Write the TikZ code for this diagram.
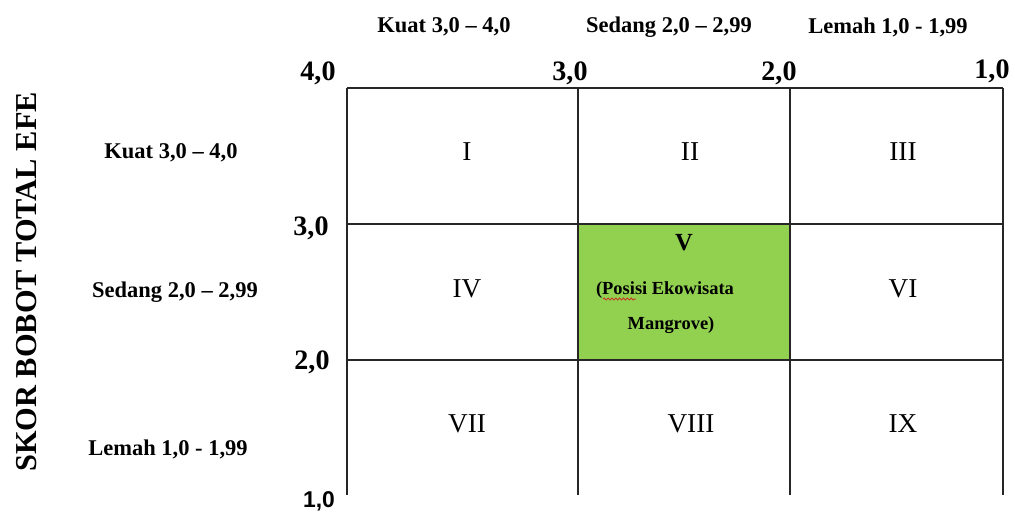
\documentclass[tikz,border=0pt]{standalone}
\usepackage{fontspec}
\setmainfont{Liberation Serif}
\newfontfamily\arialfont{Liberation Sans}
\usepackage{tikz}
\usetikzlibrary{decorations.pathmorphing}
\definecolor{posgreen}{HTML}{92D050}
\definecolor{squig}{HTML}{D02020}
\tikzset{
  cellline/.style={line width=0.75pt,draw=black!85},
  hdr/.style={font=\fontsize{12.8}{14}\selectfont\bfseries,inner sep=1pt},
  num/.style={font=\fontsize{16}{18}\selectfont\bfseries,inner sep=1pt},
  cell/.style={font=\fontsize{15.5}{17}\selectfont,inner sep=1pt},
  postext/.style={font=\fontsize{10.5}{12}\selectfont\bfseries,inner sep=1pt},
}

\begin{document}
\begin{tikzpicture}[x=0.02cm,y=-0.02cm]
\useasboundingbox (0,0) rectangle (1015,514);

% matrix cells
\fill[posgreen] (578,224) rectangle (790,360);
\draw[cellline] (347,88) -- (1003,88);
\draw[cellline] (347,224) -- (1003,224);
\draw[cellline] (347,360) -- (1003,360);
\foreach \x in {347,578,790,1003}
  \draw[cellline] (\x,88) -- (\x,495);

% column headers
\node[hdr] (kt) at (444,27) {Kuat 3,0 -- 4,0};
\node[hdr] (sd) at (669,27) {Sedang 2,0 -- 2,99};
\node[hdr] (lm) at (888,27) {Lemah 1,0 - 1,99};

% axis numbers
\node[num] (n4) at (318,73) {4,0};
\node[num] (n3) at (570,73) {3,0};
\node[num] (n2) at (779,73) {2,0};
\node[num] (n1) at (992,71) {1,0};
\node[num] (m3) at (311,228) {3,0};
\node[num] (m2) at (312,362) {2,0};
\node[num,font=\fontsize{13}{15}\selectfont\arialfont\bfseries] (m1) at (319,501) {1,0};

% row labels
\node[hdr] (rk) at (171,153) {Kuat 3,0 -- 4,0};
\node[hdr] (rs) at (175,292) {Sedang 2,0 -- 2,99};
\node[hdr] (rl) at (168,449) {Lemah 1,0 - 1,99};
\node[font=\fontsize{17.3}{19}\selectfont\bfseries,rotate=90] (efe) at (27,282) {SKOR BOBOT TOTAL EFE};

% cell numbers
\node[cell] (c1) at (467,152) {I};
\node[cell] (c2) at (690,152) {II};
\node[cell] (c3) at (903,152) {III};
\node[cell] (c4) at (467,289) {IV};
\node[cell] (c6) at (903,289) {VI};
\node[cell] (c7) at (467,424) {VII};
\node[cell] (c8) at (691,424) {VIII};
\node[cell] (c9) at (903,424) {IX};

% position of the object
\node[font=\fontsize{14}{16}\selectfont\bfseries] (c5) at (684,243) {V};
\node[postext] (p1) at (665,290) {(Posisi Ekowisata};
\node[postext] (p2) at (671,325) {Mangrove)};
\draw[squig,line width=0.4pt,decorate,decoration={snake,amplitude=0.6pt,segment length=2.2pt}]
  (603,299) -- (636,299);
\end{tikzpicture}
\end{document}
